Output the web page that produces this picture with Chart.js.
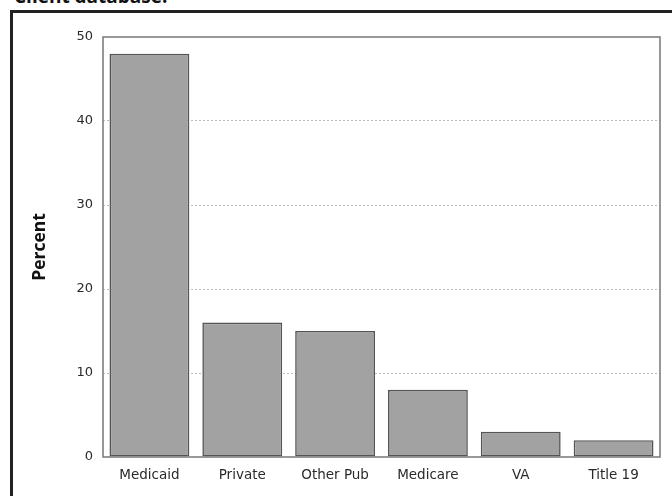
<!DOCTYPE html>
<html lang="en">
<head>
  <meta charset="UTF-8">
  <title>Client database</title>
  <script src="https://cdn.jsdelivr.net/npm/chart.js"></script>
  <style>
    html, body { margin: 0; padding: 0; background: #fff; overflow: hidden; }
    .page { position: relative; width: 672px; height: 496px; }
    .heading {
      position: absolute; left: 14px; top: -17px;
      font: bold 19px "Open Sans", "Noto Sans", sans-serif; color: #111;
    }
    .frame {
      position: absolute; left: 10px; top: 10px; width: 700px; height: 520px;
      border-left: 3px solid #222; border-top: 3px solid #222;
    }
    #payerChart { position: absolute; left: 0; top: 0; }
  </style>
</head>
<body>
  <div class="page">
    <div class="heading">Client database.</div>
    <div class="frame"></div>
    <canvas id="payerChart" width="672" height="496"></canvas>
  </div>

  <script>
    const categories = ['Medicaid', 'Private', 'Other Pub', 'Medicare', 'VA', 'Title 19'];
    const percents = [48, 16, 15, 8, 3, 2];
    const yTicks = [0, 10, 20, 30, 40, 50];

    // grey box round the plot area
    const plotFrame = {
      id: 'plotFrame',
      afterDraw(chart) {
        const { ctx, chartArea: a } = chart;
        ctx.save();
        ctx.strokeStyle = '#777';
        ctx.lineWidth = 1.5;
        ctx.strokeRect(a.left, a.top, a.right - a.left, a.bottom - a.top);
        ctx.restore();
      }
    };

    const ctx = document.getElementById('payerChart').getContext('2d');
    new Chart(ctx, {
      type: 'bar',
      data: {
        labels: categories,
        datasets: [{
          label: 'Percent',
          data: percents,
          backgroundColor: '#a2a2a2',
          borderColor: '#555',
          borderWidth: 1.6,
          borderSkipped: false,
          categoryPercentage: 1,
          barPercentage: 0.86
        }]
      },
      options: {
        responsive: false,
        animation: false,
        devicePixelRatio: 1,
        layout: { padding: { left: 30, top: 37, right: 12, bottom: 0 } },
        plugins: { legend: { display: false }, tooltip: { enabled: false } },
        scales: {
          x: {
            grid: { display: false, drawTicks: false },
            border: { display: false },
            ticks: {
              color: '#2a2a2a',
              padding: 10,
              maxRotation: 0,
              font: { family: 'DejaVu Sans', size: 13.5 }
            },
            afterFit: s => { s.height = 39; }
          },
          y: {
            min: 0,
            max: 50,
            afterBuildTicks: s => { s.ticks = yTicks.map(v => ({ value: v })); },
            grid: {
              drawTicks: false,
              color: c => (c.tick && (c.tick.value === 0 || c.tick.value === 50)) ? 'rgba(0,0,0,0)' : '#bdbdbd',
              lineWidth: 1
            },
            border: { display: false, dash: [2, 2] },
            ticks: {
              color: '#2a2a2a',
              padding: 10,
              font: { family: 'DejaVu Sans', size: 13 }
            },
            title: {
              display: true,
              text: 'Percent',
              color: '#111',
              padding: 0,
              font: { family: 'Open Sans', size: 17.5, weight: 'bold' }
            },
            afterFit: s => { s.width = 73; }
          }
        }
      },
      plugins: [plotFrame]
    });
  </script>
</body>
</html>
